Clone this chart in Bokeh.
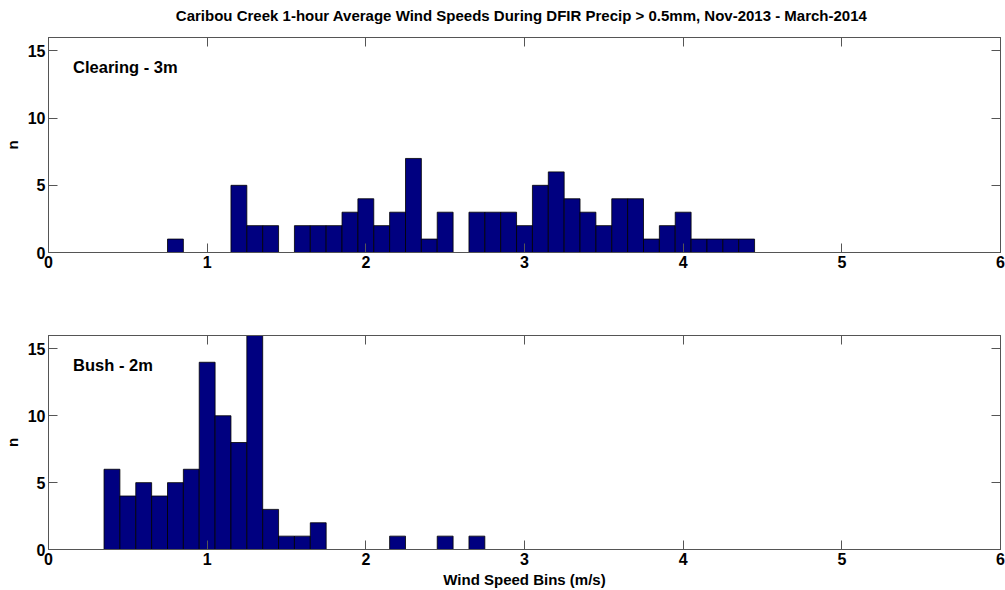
from bokeh.plotting import figure
from bokeh.layouts import column
from bokeh.models import LinearAxis, Label, FixedTicker, Range1d, ColumnDataSource
from bokeh.embed import file_html
from bokeh.resources import INLINE

# Histogram bin centres (m/s) and counts, 0.1 m/s bins
clearing_speed = [0.8, 1.2, 1.3, 1.4, 1.6, 1.7, 1.8, 1.9, 2.0, 2.1, 2.2, 2.3,
                  2.4, 2.5, 2.7, 2.8, 2.9, 3.0, 3.1, 3.2, 3.3, 3.4, 3.5, 3.6,
                  3.7, 3.8, 3.9, 4.0, 4.1, 4.2, 4.3, 4.4]
clearing_n = [1, 5, 2, 2, 2, 2, 2, 3, 4, 2, 3, 7,
              1, 3, 3, 3, 3, 2, 5, 6, 4, 3, 2, 4,
              4, 1, 2, 3, 1, 1, 1, 1]

bush_speed = [0.4, 0.5, 0.6, 0.7, 0.8, 0.9, 1.0, 1.1, 1.2, 1.3, 1.4, 1.5,
              1.6, 1.7, 2.2, 2.5, 2.7]
bush_n = [6, 4, 5, 4, 5, 6, 14, 10, 8, 16, 3, 1, 1, 2, 1, 1, 1]

bin_width = 0.1
x_ticks = [0, 1, 2, 3, 4, 5, 6]
y_ticks = [0, 5, 10, 15]

TITLE = "Caribou Creek 1-hour Average Wind Speeds During DFIR Precip > 0.5mm, Nov-2013 - March-2014"
FONT = "Liberation Sans"
AXIS_COLOR = "#555555"
BAR_COLOR = "#000080"


def style_axis(ax, ticks, show_labels=True):
    ax.ticker = FixedTicker(ticks=ticks)
    ax.axis_line_color = AXIS_COLOR
    ax.major_tick_line_color = AXIS_COLOR
    ax.major_tick_in = 9
    ax.major_tick_out = 0
    ax.minor_tick_line_color = None
    ax.major_label_text_font = FONT
    ax.major_label_text_font_style = "bold"
    ax.major_label_text_color = "black"
    ax.major_label_text_font_size = "16px"
    ax.axis_label_text_font = FONT
    ax.axis_label_text_font_style = "bold"
    ax.axis_label_text_font_size = "15px"
    ax.axis_label_text_color = "black"
    if show_labels:
        ax.major_label_standoff = 2
    else:
        # tick marks only on the opposite sides of the box
        ax.major_label_overrides = {t: "" for t in ticks}
        ax.major_label_standoff = 0


def make_panel(speeds, counts, name, top_border, bottom_border, frame_h,
               xlabel=None):
    height = top_border + frame_h + bottom_border
    p = figure(width=1005, height=height,
               x_range=Range1d(0, 6), y_range=Range1d(0, 16),
               output_backend="svg", toolbar_location=None,
               min_border_left=46, min_border_right=5,
               min_border_top=top_border, min_border_bottom=bottom_border,
               background_fill_color="white", border_fill_color="white")
    p.grid.visible = False
    p.outline_line_color = AXIS_COLOR
    p.outline_line_width = 1

    style_axis(p.xaxis[0], x_ticks)
    p.xaxis[0].major_label_standoff = 3
    style_axis(p.yaxis[0], y_ticks)
    p.yaxis[0].major_label_standoff = 3
    p.yaxis[0].axis_label = "n"
    p.yaxis[0].axis_label_standoff = 4
    if xlabel:
        p.xaxis[0].axis_label = xlabel
        p.xaxis[0].axis_label_standoff = 3

    top_ax = LinearAxis()
    style_axis(top_ax, x_ticks, show_labels=False)
    p.add_layout(top_ax, "above")
    right_ax = LinearAxis()
    style_axis(right_ax, y_ticks, show_labels=False)
    p.add_layout(right_ax, "right")

    src = ColumnDataSource(dict(x=speeds, top=counts))
    p.vbar(x="x", top="top", bottom=0, width=bin_width, source=src,
           fill_color=BAR_COLOR, line_color="black", line_width=0.8)

    p.add_layout(Label(x=0.155, y=14.45, text=name, text_font=FONT,
                       text_font_style="bold", text_font_size="16.5px",
                       text_baseline="top", text_color="black"))
    return p


# Title strip across the top of the page
title_fig = figure(width=1005, height=28, x_range=Range1d(0, 1), y_range=Range1d(0, 1),
                   output_backend="svg", toolbar_location=None, min_border=0,
                   background_fill_color="white", border_fill_color="white")
title_fig.axis.visible = False
title_fig.grid.visible = False
title_fig.outline_line_color = None
title_fig.add_layout(Label(x=0.497, y=0.46, text=TITLE, text_font=FONT,
                           text_font_style="bold", text_font_size="15px",
                           text_align="center", text_baseline="middle",
                           text_color="black"))

p1 = make_panel(clearing_speed, clearing_n, "Clearing - 3m",
                top_border=9, bottom_border=43, frame_h=215)
p2 = make_panel(bush_speed, bush_n, "Bush - 2m",
                top_border=40, bottom_border=41, frame_h=214,
                xlabel="Wind Speed Bins (m/s)")

layout = column(title_fig, p1, p2, spacing=0)
open("out.html", "w").write(file_html(layout, INLINE))
